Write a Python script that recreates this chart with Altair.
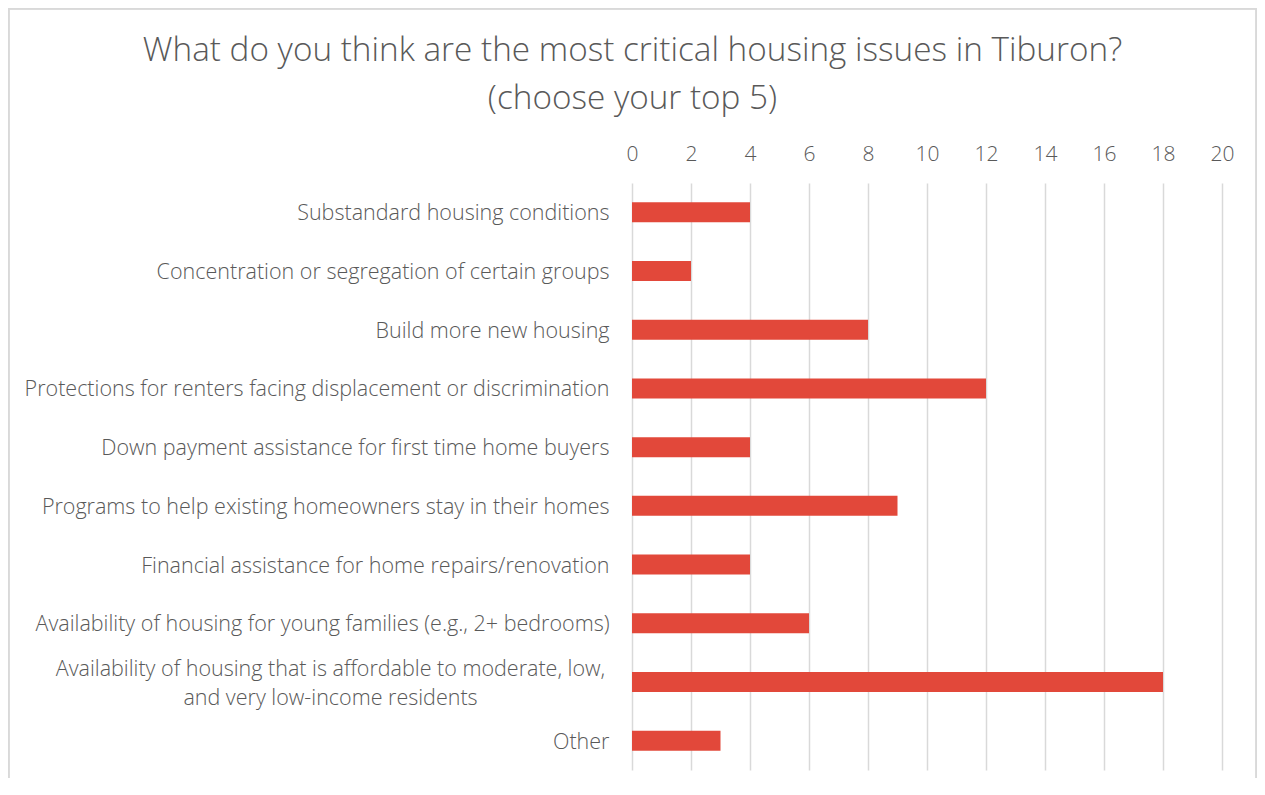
import altair as alt
import pandas as pd

categories = [
    "Substandard housing conditions",
    "Concentration or segregation of certain groups",
    "Build more new housing",
    "Protections for renters facing displacement or discrimination",
    "Down payment assistance for first time home buyers",
    "Programs to help existing homeowners stay in their homes",
    "Financial assistance for home repairs/renovation",
    "Availability of housing for young families (e.g., 2+ bedrooms)",
    "Availability of housing that is affordable to moderate, low, and very low-income residents",
    "Other",
]
values = [4, 2, 8, 12, 4, 9, 4, 6, 18, 3]
x_ticks = [0, 2, 4, 6, 8, 10, 12, 14, 16, 18, 20]
title_lines = ["What do you think are the most critical housing issues in Tiburon?", "(choose your top 5)"]

LONG = categories[8]
df = pd.DataFrame({"issue": categories, "count": values})

FONT = "Open Sans"
GRAY = "#595959"

label_expr = (
    "datum.value == '" + LONG + "' ? "
    "['Availability of housing that is affordable to moderate, low,', 'and very low-income residents'] "
    ": datum.value"
)
is_long = f"datum.value == '{LONG}'"

bars = alt.Chart(df).mark_bar(color="#E2483A", size=20).encode(
    x=alt.X(
        "count:Q",
        scale=alt.Scale(domain=[0, 20], nice=False),
        axis=alt.Axis(
            orient="top",
            values=x_ticks,
            title=None,
            domain=False,
            ticks=False,
            grid=True,
            gridColor="#D9D9D9",
            gridWidth=1.5,
            labelFont=FONT,
            labelFontSize=21,
            labelFontWeight=300,
            labelColor=GRAY,
            labelPadding=19,
            labelFlush=False,
            labelOverlap=False,
        ),
    ),
    y=alt.Y(
        "issue:N",
        sort=categories,
        scale=alt.Scale(paddingInner=0, paddingOuter=0),
        axis=alt.Axis(
            title=None,
            domain=False,
            ticks=False,
            labelFont=FONT,
            labelFontSize=21.5,
            labelFontWeight=300,
            labelColor=GRAY,
            labelLimit=800,
            labelLineHeight=29,
            labelExpr=label_expr,
            labelAlign=alt.condition(is_long, alt.value("center"), alt.value("right")),
            labelPadding=alt.condition(is_long, alt.value(302), alt.value(23)),
            labelOffset=alt.condition(is_long, alt.value(-12), alt.value(2)),
        ),
    ),
)

frame = alt.Chart(df).mark_rect(fill=None, stroke="#D9D9D9", strokeWidth=1.5).encode(
    x=alt.value(-623.5), x2=alt.value(624.5), y=alt.value(-174.5), y2=alt.value(640)
)

chart = alt.layer(frame, bars).properties(
    width=590,
    height=587,
    autosize=alt.AutoSizeParams(type="none"),
    padding={"left": 624, "top": 175, "right": 35, "bottom": 8},
    title=alt.TitleParams(
        text=title_lines,
        font=FONT,
        fontSize=33.3,
        fontWeight=300,
        color=GRAY,
        lineHeight=48,
        anchor="middle",
        frame="bounds",
        offset=-109,
    ),
).configure_view(stroke=None)

chart.save("out.html", embed_options={"renderer": "svg", "actions": False})
